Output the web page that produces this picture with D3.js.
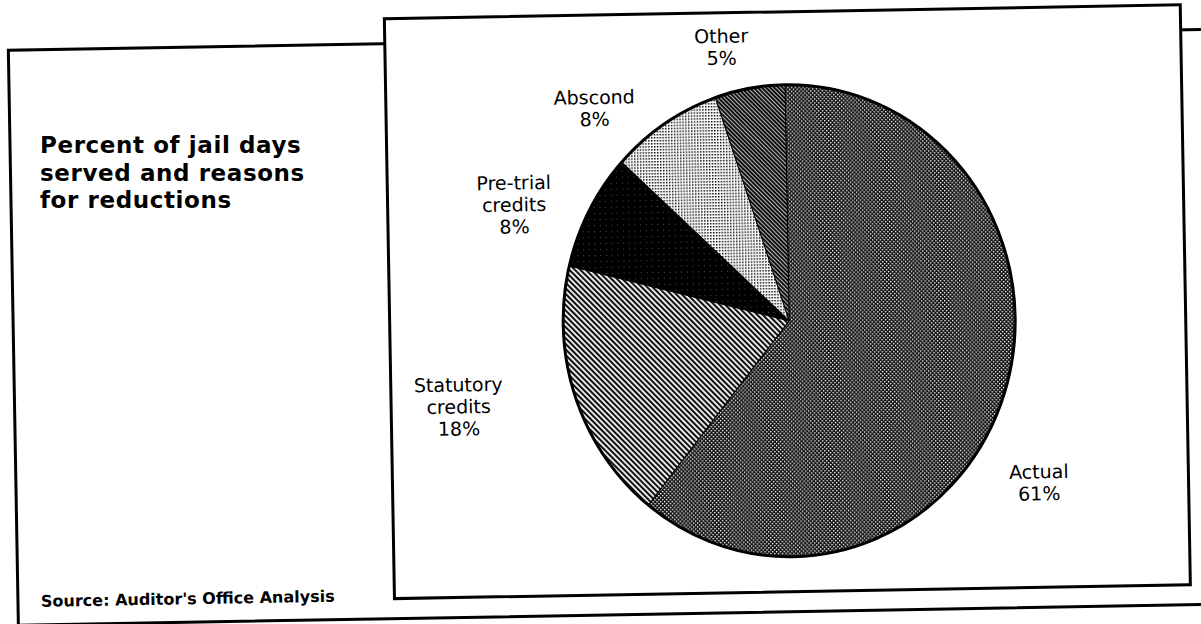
<!DOCTYPE html>
<html>
<head>
<meta charset="utf-8">
<script src="https://cdn.jsdelivr.net/npm/d3@7"></script>
<style>
  html, body { margin: 0; padding: 0; background: #fff; overflow: hidden; }
  svg { display: block; }
</style>
</head>
<body>
<svg id="chart" width="1201" height="624"></svg>
<script>
// Share of jail days: days actually served and the reasons sentences were reduced
const categories = ["Actual", "Statutory credits", "Pre-trial credits", "Abscond", "Other"];
const shares = [61, 18, 8, 8, 5];
// How each slice name is broken over lines in its label
const nameLines = [["Actual"], ["Statutory", "credits"], ["Pre-trial", "credits"], ["Abscond"], ["Other"]];
const titleLines = ["Percent of jail days", "served and reasons", "for reductions"];
const sourceNote = "Source: Auditor's Office Analysis";

// Layout (page coordinates before the slight page tilt is applied)
const W = 1201, H = 624;
const pieCenter = { x: 789, y: 324 };
const pieRx = 226, pieRy = 236;
const labelAnchors = [
  { x: 1036, y: 486 },  // Actual
  { x: 457,  y: 389 },  // Statutory credits
  { x: 516,  y: 188 },  // Pre-trial credits
  { x: 598,  y: 104 },  // Abscond
  { x: 726,  y: 45 }    // Other
];
const labelLineHeight = 22;
const patternIds = ["pat-actual", "pat-statutory", "pat-pretrial", "pat-abscond", "pat-other"];

const svg = d3.select("#chart");
svg.append("rect").attr("width", W).attr("height", H).attr("fill", "#fff");

// Halftone-style fills for the slices
const defs = svg.append("defs");
function pattern(id, size, rotate) {
  const p = defs.append("pattern")
    .attr("id", id)
    .attr("patternUnits", "userSpaceOnUse")
    .attr("width", size).attr("height", size);
  if (rotate) p.attr("patternTransform", `rotate(${rotate})`);
  return p;
}
{
  const p = pattern("pat-actual", 4);
  p.append("rect").attr("width", 4).attr("height", 4).attr("fill", "#111");
  p.append("rect").attr("x", 0).attr("y", 0).attr("width", 1.4).attr("height", 1.4).attr("fill", "#fff");
  p.append("rect").attr("x", 2).attr("y", 2).attr("width", 1.4).attr("height", 1.4).attr("fill", "#fff");
}
{
  const p = pattern("pat-statutory", 4, -45);
  p.append("rect").attr("width", 4).attr("height", 4).attr("fill", "#fff");
  p.append("rect").attr("x", 0).attr("y", 0).attr("width", 2.2).attr("height", 4).attr("fill", "#111");
}
{
  const p = pattern("pat-pretrial", 6);
  p.append("rect").attr("width", 6).attr("height", 6).attr("fill", "#000");
  p.append("rect").attr("x", 2).attr("y", 3).attr("width", 1).attr("height", 1).attr("fill", "#555");
}
{
  const p = pattern("pat-abscond", 3);
  p.append("rect").attr("width", 3).attr("height", 3).attr("fill", "#fff");
  p.append("rect").attr("x", 0).attr("y", 0).attr("width", 1.5).attr("height", 1.5).attr("fill", "#000");
}
{
  const p = pattern("pat-other", 3, -45);
  p.append("rect").attr("width", 3).attr("height", 3).attr("fill", "#fff");
  p.append("rect").attr("x", 0).attr("y", 0).attr("width", 2.3).attr("height", 3).attr("fill", "#111");
}

// Whole sheet sits at a slight tilt
const page = svg.append("g").attr("transform", `rotate(-1, ${W / 2}, ${H / 2})`);

// Outer frame (runs off the right edge of the page)
page.append("rect")
  .attr("x", 13).attr("y", 40).attr("width", 1210).attr("height", 575)
  .attr("fill", "#fff").attr("stroke", "#000").attr("stroke-width", 3);

// Chart panel overlapping the frame
page.append("rect")
  .attr("x", 389.5).attr("y", 15).attr("width", 796).attr("height", 580)
  .attr("fill", "#fff").attr("stroke", "#000").attr("stroke-width", 3);

// Title block, set level so its lines stay clear of each other
const title = svg.append("g")
  .attr("font-family", "'DejaVu Sans', sans-serif")
  .attr("font-weight", "bold").attr("font-size", 23)
  .attr("letter-spacing", 0.6)
  .attr("fill", "#000");
titleLines.forEach((t, i) => {
  title.append("text").attr("x", 40).attr("y", 153 + i * 27.5).text(t);
});

// Source note
page.append("text")
  .attr("x", 36).attr("y", 597)
  .attr("font-family", "'DejaVu Sans', sans-serif")
  .attr("font-weight", "bold").attr("font-size", 16)
  .attr("fill", "#000")
  .text(sourceNote);

// Pie
const pie = d3.pie().sort(null).value(d => d)(shares);
const arc = d3.arc().innerRadius(0).outerRadius(pieRy);
const pieG = page.append("g")
  .attr("transform", `translate(${pieCenter.x},${pieCenter.y}) scale(${pieRx / pieRy},1)`);

pieG.selectAll("path.slice")
  .data(pie)
  .join("path")
  .attr("class", "slice")
  .attr("d", arc)
  .attr("fill", (d, i) => `url(#${patternIds[i]})`)
  .attr("stroke", "#000")
  .attr("stroke-width", 1)
  .attr("vector-effect", "non-scaling-stroke");

pieG.append("path")
  .attr("d", d3.arc().innerRadius(0).outerRadius(pieRy)({ startAngle: 0, endAngle: 2 * Math.PI }))
  .attr("fill", "none")
  .attr("stroke", "#000")
  .attr("stroke-width", 3)
  .attr("vector-effect", "non-scaling-stroke");

// Slice labels: name lines then the share
const labels = page.append("g")
  .attr("font-family", "'DejaVu Sans', sans-serif")
  .attr("font-size", 19)
  .attr("fill", "#000")
  .attr("text-anchor", "middle");

categories.forEach((c, i) => {
  const lines = nameLines[i].concat([`${shares[i]}%`]);
  const t = labels.append("text").attr("x", labelAnchors[i].x).attr("y", labelAnchors[i].y);
  lines.forEach((line, j) => {
    t.append("tspan").attr("x", labelAnchors[i].x).attr("dy", j === 0 ? 0 : labelLineHeight).text(line);
  });
});
</script>
</body>
</html>
